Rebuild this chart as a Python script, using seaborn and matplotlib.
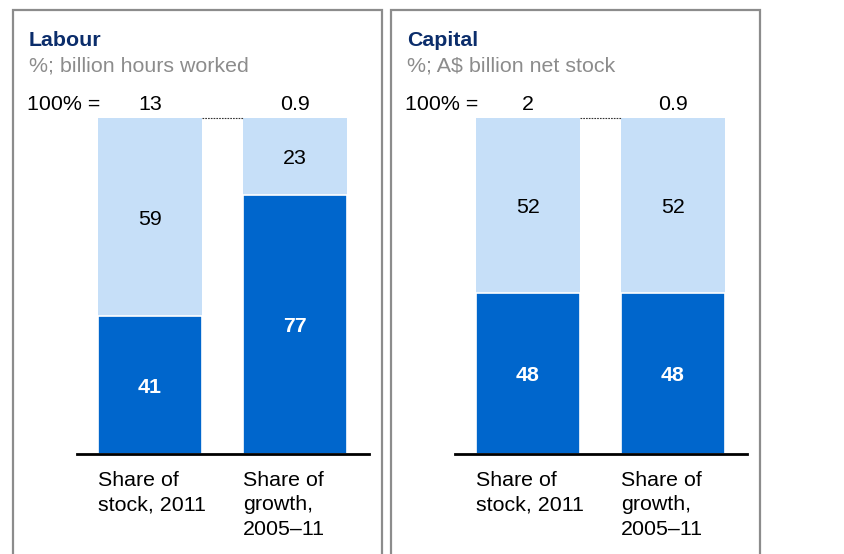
import matplotlib
matplotlib.use("Agg")
import matplotlib.pyplot as plt
import seaborn as sns
from matplotlib.patches import Rectangle

# data
categories = ["Share of\nstock, 2011", "Share of\ngrowth,\n2005–11"]
panel_titles = ["Labour", "Capital"]
panel_units = ["%; billion hours worked", "%; A$ billion net stock"]
labour_dark = [41, 77]
labour_light = [59, 23]
capital_dark = [48, 48]
capital_light = [52, 52]
labour_totals = ["13", "0.9"]
capital_totals = ["2", "0.9"]

DARK = "#0066CC"
LIGHT = "#C6DFF8"
NAVY = "#0B2D6B"
GREY_TXT = "#8C8C8C"
BORDER = "#8C8C8C"
FS = 15.4

sns.set_theme(style="white")
plt.rcParams["font.family"] = ["Liberation Sans", "DejaVu Sans"]

W, H = 845, 554
fig = plt.figure(figsize=(W / 100, H / 100), dpi=100)


def px(x, y):
    return x / W, 1 - y / H


bar_w = 104 / 145
panels = [
    dict(x0=13, x1=382, ax_left=77, title=panel_titles[0], unit=panel_units[0],
         dark=labour_dark, light=labour_light, totals=labour_totals),
    dict(x0=391, x1=760, ax_left=455, title=panel_titles[1], unit=panel_units[1],
         dark=capital_dark, light=capital_light, totals=capital_totals),
]

for p in panels:
    # panel frame (runs off the bottom of the picture)
    fig.patches.append(Rectangle(px(p["x0"], 600), (p["x1"] - p["x0"]) / W, 590 / H,
                                 transform=fig.transFigure, fill=False,
                                 edgecolor=BORDER, linewidth=1.6))
    ax = fig.add_axes([p["ax_left"] / W, (H - 454) / H, 292 / W, 336 / H])
    xs = [0, 1]
    totals = [d + l for d, l in zip(p["dark"], p["light"])]
    sns.barplot(x=xs, y=totals, color=LIGHT, saturation=1, width=bar_w,
                linewidth=0, ax=ax, native_scale=True)
    sns.barplot(x=xs, y=p["dark"], color=DARK, saturation=1, width=bar_w,
                edgecolor="white", linewidth=1.2, ax=ax, native_scale=True)
    ax.set_xlim(-73 / 145, 219 / 145)
    ax.set_ylim(0, 100)
    for s in ["top", "left", "right"]:
        ax.spines[s].set_visible(False)
    ax.spines["bottom"].set_color("black")
    ax.spines["bottom"].set_linewidth(2)
    ax.set_xticks([])
    ax.set_yticks([])
    ax.set_xlabel("")
    ax.set_ylabel("")
    ax.patch.set_alpha(0)

    for i in xs:
        d, l = p["dark"][i], p["light"][i]
        ax.text(i, d / 2, str(d), ha="center", va="center_baseline", color="white",
                fontsize=FS, fontweight="bold")
        ax.text(i, d + l / 2, str(l), ha="center", va="center_baseline", color="black",
                fontsize=FS)
        ax.text(i, 104.5, p["totals"][i], ha="center", va="center_baseline",
                color="black", fontsize=FS, clip_on=False)
        ax.text(i - bar_w / 2, -5, categories[i], ha="left", va="top",
                color="black", fontsize=FS, linespacing=1.38, clip_on=False)
    # connector between the 100% tops
    ax.plot([bar_w / 2, 1 - bar_w / 2], [100, 100], color="#333333",
            linestyle=(0, (1.5, 1)), linewidth=0.8, clip_on=False)

    tx = p["x0"] + 16
    fig.text(*px(tx, 38), p["title"], ha="left", va="center_baseline", color=NAVY,
             fontsize=FS, fontweight="bold")
    fig.text(*px(tx, 64), p["unit"], ha="left", va="center_baseline", color=GREY_TXT,
             fontsize=FS)
    fig.text(*px(p["x0"] + 14, 103), "100% =", ha="left", va="center_baseline",
             color="black", fontsize=FS)

fig.savefig("out.png", dpi=100)
